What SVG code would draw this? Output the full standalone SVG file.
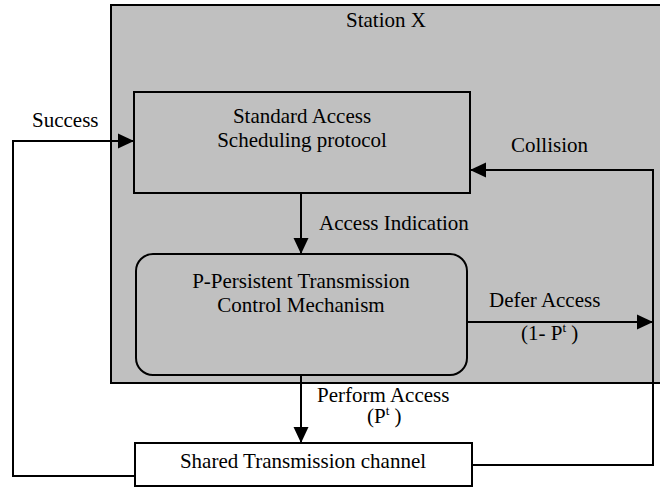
<svg xmlns="http://www.w3.org/2000/svg" width="660" height="487" viewBox="0 0 660 487">
  <style>
    text { font-family: "Liberation Serif", "Times New Roman", serif; font-size: 21px; fill: #000; }
    .box { stroke: #000; stroke-width: 2; }
    .grey { fill: #c0c0c0; }
    .white { fill: #fff; }
    .wire { fill: none; stroke: #000; stroke-width: 2; }
    .sup { font-size: 13px; }
  </style>
  <defs>
    <marker id="arrow" markerUnits="userSpaceOnUse" markerWidth="16" markerHeight="16" refX="16" refY="8" orient="auto">
      <path d="M0,0.5 L16,8 L0,15.5 Z" fill="#000"/>
    </marker>
  </defs>

  <rect width="660" height="487" fill="#fff"/>

  <!-- Station X container -->
  <g id="station-x">
    <rect class="box grey" x="111" y="5" width="560" height="378"/>
    <text x="346" y="27">Station X</text>
  </g>

  <!-- Standard access scheduling protocol -->
  <g id="scheduling">
    <rect class="box grey" x="134" y="92" width="336" height="101"/>
    <text x="302" y="123" text-anchor="middle">Standard Access</text>
    <text x="302" y="147" text-anchor="middle">Scheduling protocol</text>
  </g>

  <!-- P-persistent transmission control -->
  <g id="p-persistent">
    <rect class="box grey" x="136" y="254" width="331" height="121" rx="17" ry="17"/>
    <text x="301" y="288" text-anchor="middle">P-Persistent Transmission</text>
    <text x="301" y="312" text-anchor="middle">Control Mechanism</text>
  </g>

  <!-- Shared channel -->
  <g id="shared-channel">
    <rect class="box white" x="135" y="443" width="337" height="43"/>
    <text x="303" y="468" text-anchor="middle">Shared Transmission channel</text>
  </g>

  <!-- Connectors -->
  <g id="connectors">
    <!-- success: channel back to scheduler -->
    <polyline class="wire" points="135,476 13,476 13,141 134,141" marker-end="url(#arrow)"/>
    <!-- collision: channel back to scheduler -->
    <polyline class="wire" points="472,465 653,465 653,170 470,170" marker-end="url(#arrow)"/>
    <!-- access indication -->
    <line class="wire" x1="301" y1="193" x2="301" y2="254" marker-end="url(#arrow)"/>
    <!-- defer access -->
    <line class="wire" x1="467" y1="322" x2="653" y2="322" marker-end="url(#arrow)"/>
    <!-- perform access -->
    <line class="wire" x1="301" y1="375" x2="301" y2="443" marker-end="url(#arrow)"/>
  </g>

  <!-- Connector labels -->
  <g id="labels">
    <text x="32" y="127">Success</text>
    <text x="511" y="152">Collision</text>
    <text x="319" y="230">Access Indication</text>
    <text x="489" y="307">Defer Access</text>
    <text x="521" y="340">(1- P<tspan class="sup" dy="-8">t</tspan><tspan dy="8"> )</tspan></text>
    <text x="317" y="402">Perform Access</text>
    <text x="367" y="423">(P<tspan class="sup" dy="-8">t</tspan><tspan dy="8"> )</tspan></text>
  </g>
</svg>
